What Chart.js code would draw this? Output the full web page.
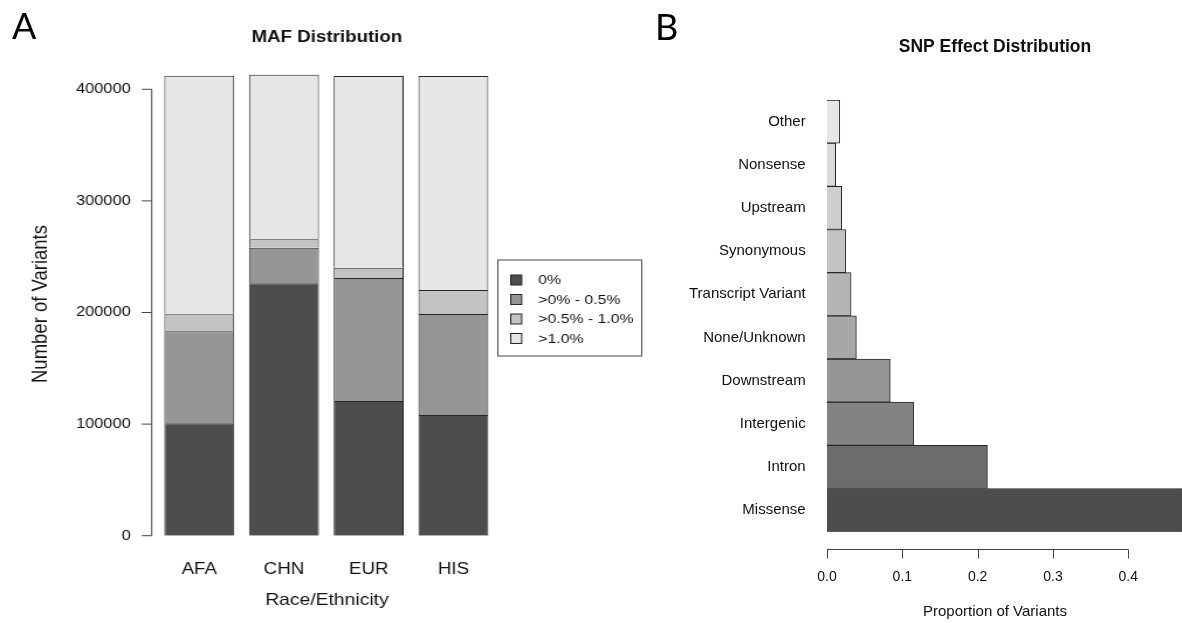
<!DOCTYPE html>
<html>
<head>
<meta charset="utf-8">
<script src="https://cdn.jsdelivr.net/npm/chart.js@4"></script>
<style>
  html, body { margin: 0; padding: 0; background: #fff; }
  body { width: 1182px; height: 623px; position: relative; overflow: hidden; }
  #mafWrap { position: absolute; left: 0; top: 0; width: 560px; height: 623px;
             transform: scaleX(1.17); transform-origin: 0 0; }
  #snpWrap { position: absolute; left: 640px; top: 0; width: 542px; height: 623px; }
  .panel { position: absolute; font-family: Lato, "Open Sans", sans-serif; font-size: 36px;
           line-height: 36px; color: #000; }
</style>
</head>
<body>
<div id="mafWrap"><canvas id="maf" width="560" height="623"></canvas></div>
<div id="snpWrap"><canvas id="snp" width="542" height="623"></canvas></div>
<div class="panel" style="left:12px; top:7px;">A</div>
<div class="panel" style="left:655px; top:8px;">B</div>
<script>
// Panel A: minor allele frequency bins per population
const races = ['AFA', 'CHN', 'EUR', 'HIS'];
const mafBins = ['0%', '>0% - 0.5%', '>0.5% - 1.0%', '>1.0%'];
const maf0 = [100700, 226200, 120700, 108200];
const mafLow = [82450, 31900, 110200, 90500];
const mafMid = [15250, 7500, 9200, 21500];
const mafHigh = [213800, 147400, 171900, 191800];
const mafTicks = [0, 100000, 200000, 300000, 400000];
const mafGrays = ['#4D4D4D', '#969696', '#C3C3C3', '#E6E6E6'];

// Panel B: share of variants by predicted effect (bottom to top)
const effects = ['Missense', 'Intron', 'Intergenic', 'Downstream', 'None/Unknown',
                 'Transcript Variant', 'Synonymous', 'Upstream', 'Nonsense', 'Other'];
const effectShare = [0.472, 0.213, 0.115, 0.084, 0.039, 0.032, 0.025, 0.0195, 0.0115, 0.017];
const shareTicks = [0, 0.1, 0.2, 0.3, 0.4];
const effectGrays = ['#4D4D4D', '#6C6C6C', '#838383', '#969696', '#A7A7A7',
                     '#B5B5B5', '#C3C3C3', '#CFCFCF', '#DBDBDB', '#E6E6E6'];

const FONT = '"Liberation Sans", Arial, Helvetica, sans-serif';
const INK = '#111';
const AXIS = '#444';
const EDGE = '#262626';

Chart.defaults.font.family = FONT;
Chart.defaults.color = INK;
Chart.defaults.animation = false;

// R-style decorations for panel A: bracket axis, titles, boxed legend
const mafDecor = {
  id: 'mafDecor',
  afterDraw(chart) {
    const { ctx, chartArea: a, scales: { y } } = chart;
    ctx.save();
    ctx.strokeStyle = AXIS;
    ctx.lineWidth = 1;
    const ax = a.left - 4.4;
    ctx.beginPath();
    ctx.moveTo(ax, y.getPixelForValue(mafTicks[0]));
    ctx.lineTo(ax, y.getPixelForValue(mafTicks[mafTicks.length - 1]));
    mafTicks.forEach(v => {
      const py = y.getPixelForValue(v);
      ctx.moveTo(ax, py);
      ctx.lineTo(ax - 8.6, py);
    });
    ctx.stroke();

    const cx = (a.left + a.right) / 2 + 0.5;
    ctx.fillStyle = INK;
    ctx.textAlign = 'center';
    ctx.textBaseline = 'middle';
    ctx.font = 'bold 16px ' + FONT;
    ctx.fillText('MAF Distribution', cx, 38);
    ctx.font = '16.5px ' + FONT;
    ctx.fillText('Race/Ethnicity', cx, 600);

    ctx.save();
    ctx.translate(35, 304);
    ctx.rotate(-Math.PI / 2);
    ctx.font = '18.5px ' + FONT;
    ctx.fillText('Number of Variants', 0, 0);
    ctx.restore();

    // legend box
    const lx = 425, ly = 259.5, lw = 123, lh = 96;
    ctx.strokeStyle = AXIS;
    ctx.strokeRect(lx + 0.5, ly + 0.5, lw, lh);
    ctx.font = '13.5px ' + FONT;
    ctx.textAlign = 'left';
    chart.data.datasets.forEach((ds, i) => {
      const ry = 280 + i * 19.5;
      ctx.fillStyle = ds.backgroundColor;
      ctx.fillRect(436.5, ry - 5, 9.4, 10);
      ctx.strokeStyle = EDGE;
      ctx.strokeRect(436.5, ry - 5, 9.4, 10);
      ctx.fillStyle = INK;
      ctx.fillText(ds.label, 460, ry + 0.5);
    });
    ctx.restore();
  }
};

new Chart(document.getElementById('maf'), {
  type: 'bar',
  data: {
    labels: races,
    datasets: [maf0, mafLow, mafMid, mafHigh].map((vals, i) => ({
      label: mafBins[i],
      data: vals,
      backgroundColor: mafGrays[i],
      borderColor: EDGE,
      borderWidth: 1,
      categoryPercentage: 1,
      barPercentage: 0.826
    }))
  },
  options: {
    responsive: false,
    layout: { padding: { top: 55.8, right: 136.3, left: 0, bottom: 0 } },
    plugins: { legend: { display: false }, tooltip: { enabled: false } },
    scales: {
      x: {
        stacked: true,
        offset: true,
        grid: { display: false, drawTicks: false },
        border: { display: false },
        ticks: { font: { size: 16 }, padding: 24 },
        afterFit(s) { s.height = 87.3; }
      },
      y: {
        stacked: true,
        min: 0,
        max: 430000,
        grid: { display: false, drawTicks: false },
        border: { display: false },
        ticks: { font: { size: 14 }, padding: 22.4, callback: v => String(v) },
        afterBuildTicks(s) { s.ticks = mafTicks.map(v => ({ value: v })); },
        afterFit(s) { s.width = 134.1; }
      }
    }
  },
  plugins: [mafDecor]
});

// R-style decorations for panel B: bracket axis and titles
const snpDecor = {
  id: 'snpDecor',
  afterDraw(chart) {
    const { ctx, chartArea: a, scales: { x } } = chart;
    ctx.save();
    ctx.strokeStyle = AXIS;
    ctx.lineWidth = 1;
    const ay = a.bottom + 17.8;
    ctx.beginPath();
    ctx.moveTo(x.getPixelForValue(shareTicks[0]), ay);
    ctx.lineTo(x.getPixelForValue(shareTicks[shareTicks.length - 1]), ay);
    shareTicks.forEach(v => {
      const px = Math.round(x.getPixelForValue(v)) + 0.5;
      ctx.moveTo(px, ay);
      ctx.lineTo(px, ay + 9);
    });
    ctx.stroke();

    ctx.fillStyle = INK;
    ctx.textAlign = 'center';
    ctx.textBaseline = 'middle';
    ctx.font = 'bold 17.5px ' + FONT;
    ctx.fillText('SNP Effect Distribution', 355, 47.5);
    ctx.font = '15px ' + FONT;
    ctx.fillText('Proportion of Variants', 355, 612);
    ctx.restore();
  }
};

new Chart(document.getElementById('snp'), {
  type: 'bar',
  data: {
    labels: effects,
    datasets: [{
      label: 'Proportion of Variants',
      data: effectShare,
      backgroundColor: effectGrays,
      borderColor: EDGE,
      borderWidth: 1,
      categoryPercentage: 1,
      barPercentage: 1
    }]
  },
  options: {
    indexAxis: 'y',
    responsive: false,
    layout: { padding: { top: 100, right: 0, left: 0, bottom: 0 } },
    plugins: { legend: { display: false }, tooltip: { enabled: false } },
    scales: {
      y: {
        reverse: true,
        offset: true,
        grid: { display: false, drawTicks: false },
        border: { display: false },
        ticks: { font: { size: 15 }, padding: 21.3 },
        afterFit(s) { s.width = 187; }
      },
      x: {
        min: 0,
        max: 0.4713,
        grid: { display: false, drawTicks: false },
        border: { display: false },
        ticks: { font: { size: 14 }, padding: 36.6,
                 callback: v => Number(v).toFixed(1) },
        afterBuildTicks(s) { s.ticks = shareTicks.map(v => ({ value: v })); },
        afterFit(s) { s.height = 91.3; }
      }
    }
  },
  plugins: [snpDecor]
});
</script>
</body>
</html>
